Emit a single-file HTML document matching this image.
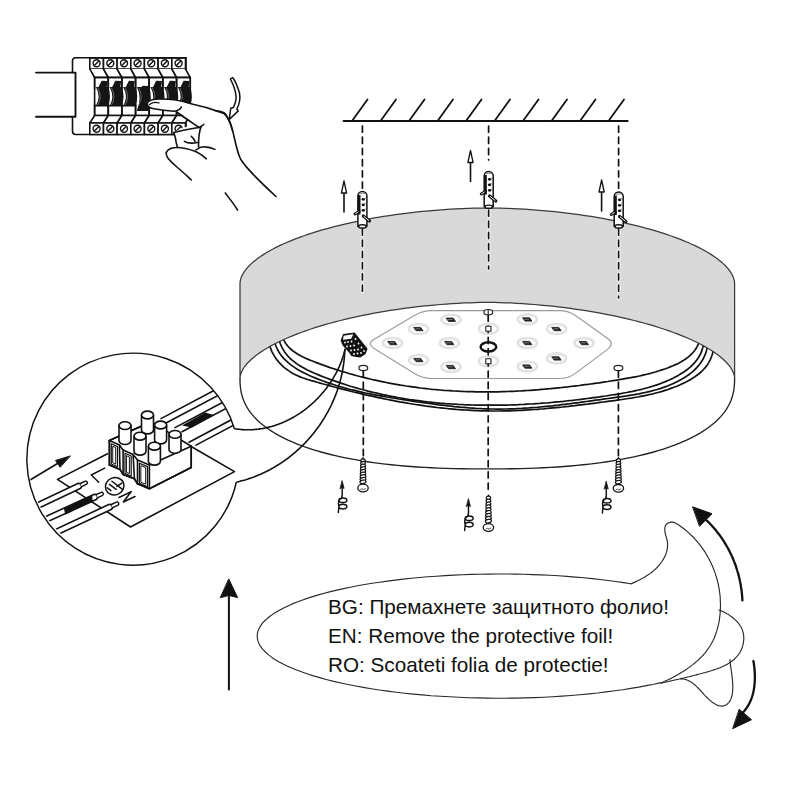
<!DOCTYPE html>
<html><head><meta charset="utf-8"><style>
html,body{margin:0;padding:0;background:#fff;}
body{width:800px;height:800px;overflow:hidden;font-family:"Liberation Sans",sans-serif;}
svg{display:block;}
</style></head><body>
<svg width="800" height="800" viewBox="0 0 800 800" stroke-linecap="round" stroke-linejoin="round">
<rect width="800" height="800" fill="#fff"/>
<g id="interior">
<path d="M280.7,329.6 L281.2,332.8 L282.0,335.8 L283.1,338.6 L284.4,341.1 L285.8,343.5 L287.5,345.7 L289.3,347.7 L291.3,349.5 L293.4,351.3 L295.6,352.8 L298.0,354.3 L300.5,355.7 L303.0,357.0 L305.6,358.2 L308.3,359.4 L311.0,360.5 L313.7,361.5 L316.4,362.6 L319.1,363.6 L321.9,364.6 L324.6,365.6 L327.4,366.6 L330.1,367.6 L332.9,368.5 L335.6,369.4 L338.4,370.3 L341.2,371.2 L344.0,372.0 L346.8,372.8 L349.6,373.7 L352.3,374.4 L355.2,375.2 L358.0,376.0 L360.8,376.7 L363.6,377.4 L366.4,378.1 L369.2,378.8 L372.1,379.5 L374.9,380.1 L377.7,380.7 L380.6,381.3 L383.4,381.9 L386.3,382.5 L389.1,383.1 L392.0,383.6 L394.8,384.1 L397.7,384.6 L400.5,385.1 L403.4,385.5 L406.3,386.0 L409.2,386.4 L412.0,386.8 L414.9,387.2 L417.8,387.6 L420.7,388.0 L423.5,388.3 L426.4,388.6 L429.3,389.0 L432.2,389.3 L435.1,389.5 L438.0,389.8 L440.9,390.0 L443.7,390.3 L446.6,390.5 L449.5,390.7 L452.4,390.9 L455.3,391.0 L458.2,391.2 L461.1,391.3 L464.0,391.5 L466.9,391.6 L469.8,391.7 L472.7,391.7 L475.6,391.8 L478.4,391.8 L481.3,391.9 L484.2,391.9 L487.1,391.9 L490.0,391.9 L492.9,391.9 L495.8,391.8 L498.7,391.8 L501.5,391.7 L504.4,391.6 L507.3,391.5 L510.2,391.4 L513.1,391.3 L515.9,391.2 L518.8,391.0 L521.7,390.9 L524.6,390.7 L527.4,390.5 L530.3,390.3 L533.2,390.1 L536.1,389.9 L538.9,389.7 L541.8,389.4 L544.7,389.2 L547.5,388.9 L550.4,388.7 L553.3,388.4 L556.1,388.1 L559.0,387.8 L561.9,387.5 L564.8,387.2 L567.6,386.9 L570.5,386.5 L573.4,386.2 L576.2,385.8 L579.1,385.5 L582.0,385.1 L584.8,384.7 L587.7,384.4 L590.6,384.0 L593.4,383.6 L596.3,383.2 L599.2,382.8 L602.1,382.3 L604.9,381.9 L607.8,381.5 L610.7,381.0 L613.5,380.6 L616.4,380.2 L619.3,379.7 L622.2,379.2 L625.0,378.7 L627.9,378.2 L630.8,377.7 L633.6,377.1 L636.5,376.6 L639.3,376.0 L642.2,375.3 L645.0,374.7 L647.8,374.0 L650.7,373.3 L653.5,372.5 L656.3,371.7 L659.1,370.8 L661.9,369.9 L664.7,369.0 L667.5,368.0 L670.2,366.9 L672.9,365.8 L675.6,364.6 L678.2,363.4 L680.8,362.0 L683.2,360.6 L685.6,359.0 L687.8,357.4 L689.9,355.6 L691.9,353.7 L693.7,351.7 L695.4,349.5 L696.8,347.2 L698.1,344.7 L699.2,342.0 L700.1,339.2 L700.7,336.2 L701.1,333.0" fill="none" stroke="#111" stroke-width="1.7"/>
<path d="M277.6,331.0 L278.0,334.5 L278.6,337.9 L279.4,341.0 L280.4,344.0 L281.7,346.8 L283.1,349.4 L284.6,351.9 L286.4,354.2 L288.2,356.4 L290.2,358.5 L292.4,360.4 L294.7,362.2 L297.0,363.9 L299.5,365.6 L302.0,367.1 L304.7,368.5 L307.4,369.9 L310.1,371.2 L312.9,372.5 L315.7,373.7 L318.5,374.9 L321.4,376.1 L324.3,377.2 L327.1,378.3 L330.0,379.4 L332.9,380.4 L335.8,381.4 L338.7,382.4 L341.6,383.4 L344.5,384.3 L347.4,385.3 L350.3,386.2 L353.2,387.0 L356.1,387.9 L359.1,388.7 L362.0,389.5 L365.0,390.3 L367.9,391.1 L370.9,391.8 L373.8,392.5 L376.8,393.2 L379.7,393.9 L382.7,394.6 L385.7,395.2 L388.6,395.8 L391.6,396.4 L394.6,396.9 L397.6,397.5 L400.6,398.0 L403.6,398.5 L406.5,399.0 L409.5,399.5 L412.5,399.9 L415.5,400.3 L418.5,400.7 L421.6,401.1 L424.6,401.5 L427.6,401.9 L430.6,402.2 L433.6,402.5 L436.6,402.8 L439.6,403.1 L442.6,403.3 L445.7,403.6 L448.7,403.8 L451.7,404.0 L454.7,404.2 L457.7,404.4 L460.8,404.5 L463.8,404.7 L466.8,404.8 L469.8,404.9 L472.9,405.0 L475.9,405.1 L478.9,405.1 L481.9,405.2 L484.9,405.2 L488.0,405.2 L491.0,405.2 L494.0,405.2 L497.0,405.2 L500.0,405.2 L503.0,405.1 L506.1,405.1 L509.1,405.0 L512.1,404.9 L515.1,404.8 L518.1,404.7 L521.1,404.5 L524.1,404.4 L527.1,404.2 L530.2,404.0 L533.2,403.9 L536.2,403.7 L539.2,403.5 L542.2,403.2 L545.2,403.0 L548.2,402.8 L551.2,402.5 L554.2,402.2 L557.3,401.9 L560.3,401.7 L563.3,401.4 L566.3,401.0 L569.3,400.7 L572.3,400.4 L575.3,400.0 L578.4,399.7 L581.4,399.3 L584.4,398.9 L587.4,398.5 L590.4,398.1 L593.4,397.7 L596.5,397.3 L599.5,396.9 L602.5,396.4 L605.5,396.0 L608.6,395.5 L611.6,395.0 L614.6,394.6 L617.7,394.1 L620.7,393.6 L623.7,393.0 L626.7,392.5 L629.7,391.9 L632.7,391.3 L635.7,390.6 L638.7,390.0 L641.7,389.3 L644.6,388.5 L647.6,387.7 L650.5,386.9 L653.4,386.0 L656.2,385.1 L659.1,384.1 L661.9,383.0 L664.7,381.9 L667.5,380.7 L670.3,379.5 L673.0,378.2 L675.7,376.8 L678.3,375.4 L680.9,373.8 L683.5,372.2 L685.9,370.5 L688.3,368.7 L690.6,366.8 L692.7,364.7 L694.7,362.6 L696.5,360.4 L698.2,358.0 L699.7,355.5 L701.0,352.9 L702.0,350.1 L702.9,347.2 L703.5,344.1 L703.9,340.9 L704.0,337.6 L703.8,334.1" fill="none" stroke="#111" stroke-width="1.7"/>
<path d="M273.1,333.3 L273.5,336.7 L274.1,340.0 L274.9,343.1 L275.9,346.0 L277.2,348.8 L278.6,351.5 L280.2,354.0 L282.0,356.4 L283.9,358.6 L286.0,360.7 L288.2,362.7 L290.5,364.6 L293.0,366.4 L295.5,368.1 L298.1,369.8 L300.8,371.3 L303.6,372.7 L306.4,374.1 L309.3,375.5 L312.2,376.7 L315.1,377.9 L318.0,379.1 L321.0,380.2 L323.9,381.3 L326.8,382.4 L329.8,383.4 L332.7,384.3 L335.7,385.3 L338.7,386.2 L341.6,387.0 L344.6,387.9 L347.6,388.7 L350.6,389.5 L353.5,390.2 L356.5,390.9 L359.5,391.6 L362.5,392.3 L365.5,393.0 L368.5,393.6 L371.6,394.2 L374.6,394.8 L377.6,395.4 L380.6,395.9 L383.6,396.4 L386.7,397.0 L389.7,397.5 L392.8,398.0 L395.8,398.5 L398.8,399.0 L401.9,399.4 L405.0,399.9 L408.0,400.4 L411.1,400.8 L414.1,401.3 L417.2,401.8 L420.3,402.2 L423.4,402.7 L426.4,403.1 L429.5,403.5 L432.6,403.9 L435.7,404.4 L438.8,404.8 L441.8,405.1 L444.9,405.5 L448.0,405.9 L451.1,406.2 L454.2,406.6 L457.3,406.9 L460.4,407.2 L463.5,407.4 L466.6,407.7 L469.7,408.0 L472.7,408.2 L475.8,408.4 L478.9,408.5 L482.0,408.7 L485.1,408.8 L488.2,408.9 L491.2,409.0 L494.3,409.0 L497.4,409.1 L500.5,409.1 L503.5,409.0 L506.6,409.0 L509.7,408.9 L512.7,408.8 L515.8,408.7 L518.9,408.5 L521.9,408.4 L525.0,408.2 L528.0,408.0 L531.1,407.7 L534.2,407.5 L537.2,407.3 L540.3,407.0 L543.4,406.7 L546.4,406.4 L549.5,406.1 L552.5,405.8 L555.6,405.4 L558.7,405.1 L561.7,404.7 L564.8,404.3 L567.9,403.9 L570.9,403.6 L574.0,403.2 L577.1,402.8 L580.2,402.4 L583.2,401.9 L586.3,401.5 L589.4,401.1 L592.5,400.7 L595.6,400.2 L598.7,399.8 L601.8,399.4 L604.9,398.9 L608.0,398.5 L611.1,398.1 L614.2,397.7 L617.3,397.2 L620.4,396.8 L623.5,396.3 L626.6,395.9 L629.7,395.4 L632.8,394.9 L635.9,394.3 L639.0,393.8 L642.0,393.2 L645.1,392.5 L648.1,391.8 L651.1,391.1 L654.1,390.3 L657.0,389.5 L660.0,388.6 L662.9,387.6 L665.8,386.6 L668.6,385.5 L671.5,384.3 L674.3,383.1 L677.0,381.7 L679.7,380.3 L682.4,378.8 L685.0,377.2 L687.6,375.5 L690.0,373.7 L692.4,371.8 L694.6,369.8 L696.7,367.6 L698.7,365.4 L700.5,363.0 L702.2,360.6 L703.6,358.0 L704.9,355.2 L706.0,352.4 L706.8,349.4 L707.5,346.3 L707.8,343.0 L707.9,339.6 L707.8,336.1" fill="none" stroke="#111" stroke-width="1.7"/>
<path d="M268.5,336.4 L268.6,339.6 L269.1,342.8 L269.8,345.9 L270.8,348.9 L272.0,351.8 L273.5,354.6 L275.1,357.3 L277.0,359.9 L279.0,362.3 L281.2,364.6 L283.5,366.8 L285.9,368.8 L288.5,370.6 L291.1,372.4 L293.8,373.9 L296.6,375.3 L299.5,376.6 L302.4,377.7 L305.3,378.7 L308.3,379.7 L311.3,380.6 L314.3,381.4 L317.3,382.3 L320.3,383.1 L323.3,384.0 L326.3,384.8 L329.3,385.6 L332.4,386.5 L335.4,387.3 L338.4,388.1 L341.5,388.9 L344.5,389.7 L347.6,390.4 L350.6,391.2 L353.7,392.0 L356.7,392.7 L359.8,393.4 L362.9,394.1 L365.9,394.9 L369.0,395.6 L372.1,396.2 L375.2,396.9 L378.2,397.6 L381.3,398.2 L384.4,398.9 L387.5,399.5 L390.6,400.1 L393.7,400.7 L396.8,401.3 L399.9,401.9 L403.0,402.4 L406.1,402.9 L409.3,403.5 L412.4,404.0 L415.5,404.5 L418.6,404.9 L421.7,405.4 L424.8,405.9 L428.0,406.3 L431.1,406.7 L434.2,407.1 L437.3,407.5 L440.5,407.8 L443.6,408.2 L446.7,408.5 L449.9,408.8 L453.0,409.1 L456.1,409.4 L459.3,409.6 L462.4,409.8 L465.5,410.0 L468.6,410.2 L471.8,410.4 L474.9,410.6 L478.0,410.7 L481.2,410.8 L484.3,410.9 L487.4,410.9 L490.6,411.0 L493.7,411.0 L496.8,411.0 L500.0,411.0 L503.1,410.9 L506.2,410.9 L509.3,410.8 L512.5,410.7 L515.6,410.6 L518.7,410.4 L521.9,410.3 L525.0,410.1 L528.1,409.9 L531.2,409.7 L534.4,409.5 L537.5,409.3 L540.6,409.0 L543.7,408.8 L546.9,408.5 L550.0,408.2 L553.1,407.9 L556.2,407.6 L559.4,407.3 L562.5,407.0 L565.6,406.6 L568.7,406.3 L571.9,405.9 L575.0,405.6 L578.1,405.2 L581.3,404.8 L584.4,404.4 L587.5,404.1 L590.6,403.7 L593.8,403.3 L596.9,402.9 L600.0,402.4 L603.2,402.0 L606.3,401.6 L609.4,401.2 L612.6,400.8 L615.7,400.4 L618.9,399.9 L622.0,399.5 L625.1,399.0 L628.2,398.5 L631.4,398.1 L634.5,397.5 L637.6,397.0 L640.7,396.4 L643.8,395.8 L646.8,395.2 L649.9,394.5 L653.0,393.8 L656.0,393.0 L659.0,392.2 L662.1,391.4 L665.1,390.4 L668.0,389.5 L671.0,388.4 L673.9,387.3 L676.8,386.2 L679.7,385.0 L682.6,383.6 L685.5,382.3 L688.3,380.8 L691.0,379.2 L693.7,377.6 L696.2,375.8 L698.7,374.0 L701.0,372.0 L703.2,369.8 L705.2,367.6 L707.1,365.2 L708.7,362.6 L710.2,359.9 L711.4,357.0 L712.4,354.0 L713.1,350.9 L713.6,347.6 L713.8,344.1 L713.8,340.6" fill="none" stroke="#111" stroke-width="1.7"/>
<path d="M374.1,348.5 Q366.5,343.8 374.2,339.2 L414.8,315.2 Q422.5,310.6 431.5,310.6 L559.5,310.6 Q568.5,310.6 575.8,315.8 L607.7,338.5 Q615.0,343.8 607.8,349.1 L575.7,373.1 Q568.5,378.5 559.5,378.5 L431.5,378.5 Q422.5,378.5 414.9,373.8 Z" fill="#fff" stroke="#9a9a9a" stroke-width="1.1"/>
<ellipse cx="451.0" cy="319.7" rx="9.6" ry="5.0" fill="none" stroke="#e2e2e2" stroke-width="2.6"/>
<path d="M446.5,318.1 L453.2,318.1 L455.5,321.4 L448.8,321.4 Z" fill="#222" stroke="#222" stroke-width="0.9"/>
<path d="M448.5,319.5 L452.5,319.5" stroke="#999" stroke-width="0.7"/>
<ellipse cx="527.4" cy="319.4" rx="9.6" ry="5.0" fill="none" stroke="#e2e2e2" stroke-width="2.6"/>
<path d="M522.9,317.8 L529.6,317.8 L531.9,321.1 L525.2,321.1 Z" fill="#222" stroke="#222" stroke-width="0.9"/>
<path d="M524.9,319.2 L528.9,319.2" stroke="#999" stroke-width="0.7"/>
<ellipse cx="418.5" cy="329.0" rx="9.6" ry="5.0" fill="none" stroke="#e2e2e2" stroke-width="2.6"/>
<path d="M414.0,327.4 L420.7,327.4 L423.0,330.7 L416.3,330.7 Z" fill="#222" stroke="#222" stroke-width="0.9"/>
<path d="M416.0,328.8 L420.0,328.8" stroke="#999" stroke-width="0.7"/>
<ellipse cx="556.6" cy="329.0" rx="9.6" ry="5.0" fill="none" stroke="#e2e2e2" stroke-width="2.6"/>
<path d="M552.1,327.4 L558.8,327.4 L561.1,330.7 L554.4,330.7 Z" fill="#222" stroke="#222" stroke-width="0.9"/>
<path d="M554.1,328.8 L558.1,328.8" stroke="#999" stroke-width="0.7"/>
<ellipse cx="392.5" cy="343.0" rx="9.6" ry="5.0" fill="none" stroke="#e2e2e2" stroke-width="2.6"/>
<path d="M388.0,341.4 L394.7,341.4 L397.0,344.7 L390.3,344.7 Z" fill="#222" stroke="#222" stroke-width="0.9"/>
<path d="M390.0,342.8 L394.0,342.8" stroke="#999" stroke-width="0.7"/>
<ellipse cx="449.4" cy="343.0" rx="9.6" ry="5.0" fill="none" stroke="#e2e2e2" stroke-width="2.6"/>
<path d="M444.9,341.4 L451.6,341.4 L453.9,344.7 L447.2,344.7 Z" fill="#222" stroke="#222" stroke-width="0.9"/>
<path d="M446.9,342.8 L450.9,342.8" stroke="#999" stroke-width="0.7"/>
<ellipse cx="527.4" cy="343.0" rx="9.6" ry="5.0" fill="none" stroke="#e2e2e2" stroke-width="2.6"/>
<path d="M522.9,341.4 L529.6,341.4 L531.9,344.7 L525.2,344.7 Z" fill="#222" stroke="#222" stroke-width="0.9"/>
<path d="M524.9,342.8 L528.9,342.8" stroke="#999" stroke-width="0.7"/>
<ellipse cx="584.0" cy="343.0" rx="9.6" ry="5.0" fill="none" stroke="#e2e2e2" stroke-width="2.6"/>
<path d="M579.5,341.4 L586.2,341.4 L588.5,344.7 L581.8,344.7 Z" fill="#222" stroke="#222" stroke-width="0.9"/>
<path d="M581.5,342.8 L585.5,342.8" stroke="#999" stroke-width="0.7"/>
<ellipse cx="418.5" cy="360.0" rx="9.6" ry="5.0" fill="none" stroke="#e2e2e2" stroke-width="2.6"/>
<path d="M414.0,358.4 L420.7,358.4 L423.0,361.7 L416.3,361.7 Z" fill="#222" stroke="#222" stroke-width="0.9"/>
<path d="M416.0,359.8 L420.0,359.8" stroke="#999" stroke-width="0.7"/>
<ellipse cx="556.6" cy="358.4" rx="9.6" ry="5.0" fill="none" stroke="#e2e2e2" stroke-width="2.6"/>
<path d="M552.1,356.8 L558.8,356.8 L561.1,360.1 L554.4,360.1 Z" fill="#222" stroke="#222" stroke-width="0.9"/>
<path d="M554.1,358.2 L558.1,358.2" stroke="#999" stroke-width="0.7"/>
<ellipse cx="451.0" cy="367.0" rx="9.6" ry="5.0" fill="none" stroke="#e2e2e2" stroke-width="2.6"/>
<path d="M446.5,365.4 L453.2,365.4 L455.5,368.7 L448.8,368.7 Z" fill="#222" stroke="#222" stroke-width="0.9"/>
<path d="M448.5,366.8 L452.5,366.8" stroke="#999" stroke-width="0.7"/>
<ellipse cx="527.4" cy="366.5" rx="9.6" ry="5.0" fill="none" stroke="#e2e2e2" stroke-width="2.6"/>
<path d="M522.9,364.9 L529.6,364.9 L531.9,368.2 L525.2,368.2 Z" fill="#222" stroke="#222" stroke-width="0.9"/>
<path d="M524.9,366.3 L528.9,366.3" stroke="#999" stroke-width="0.7"/>
<ellipse cx="488.4" cy="328.8" rx="9.6" ry="5.0" fill="none" stroke="#e2e2e2" stroke-width="2.6"/>
<ellipse cx="488.4" cy="361.2" rx="9.6" ry="5.0" fill="none" stroke="#e2e2e2" stroke-width="2.6"/>
<line x1="488.2" y1="315.0" x2="488.2" y2="493.0" stroke="#111" stroke-width="1.7" stroke-dasharray="6.2 5.0"/>
<rect x="485.8" y="326.2" width="5.2" height="5" fill="#fff" stroke="#222" stroke-width="1.1"/>
<rect x="485.8" y="358.8" width="5.2" height="5" fill="#fff" stroke="#222" stroke-width="1.1"/>
<ellipse cx="488.4" cy="346.9" rx="7.8" ry="4.6" fill="none" stroke="#111" stroke-width="2.4"/>
<ellipse cx="488.3" cy="312.2" rx="4.4" ry="2.7" fill="#fff" stroke="#222" stroke-width="1.2"/>
<ellipse cx="363.3" cy="368.0" rx="4.4" ry="2.7" fill="#fff" stroke="#222" stroke-width="1.2"/>
<ellipse cx="618.4" cy="368.0" rx="4.4" ry="2.7" fill="#fff" stroke="#222" stroke-width="1.2"/>
<line x1="488.2" y1="309.5" x2="488.2" y2="315" stroke="#222" stroke-width="1.1"/>
</g>
<path d="M240.00,283.60 L240.09,282.08 L240.37,280.40 L240.83,278.66 L241.48,276.87 L242.31,275.06 L243.33,273.22 L244.52,271.37 L245.90,269.51 L247.46,267.64 L249.20,265.77 L251.12,263.90 L253.21,262.03 L255.47,260.16 L257.91,258.30 L260.52,256.46 L263.29,254.62 L266.23,252.80 L269.34,250.99 L272.60,249.20 L276.02,247.43 L279.59,245.68 L283.32,243.95 L287.19,242.25 L291.21,240.57 L295.37,238.92 L299.67,237.30 L304.10,235.72 L308.66,234.16 L313.34,232.64 L318.15,231.15 L323.07,229.70 L328.11,228.29 L333.25,226.91 L338.50,225.58 L343.84,224.29 L349.28,223.04 L354.81,221.83 L360.42,220.67 L366.10,219.55 L371.86,218.48 L377.69,217.46 L383.57,216.49 L389.51,215.56 L395.50,214.69 L401.53,213.87 L407.59,213.10 L413.68,212.38 L419.79,211.71 L425.91,211.10 L432.04,210.54 L438.16,210.04 L444.26,209.59 L450.33,209.19 L456.36,208.86 L462.34,208.57 L468.23,208.35 L474.01,208.18 L479.62,208.06 L484.94,208.01 L489.66,208.01 L494.98,208.06 L500.59,208.18 L506.37,208.35 L512.26,208.57 L518.24,208.86 L524.27,209.19 L530.34,209.59 L536.44,210.04 L542.56,210.54 L548.69,211.10 L554.81,211.71 L560.92,212.38 L567.01,213.10 L573.07,213.87 L579.10,214.69 L585.09,215.56 L591.03,216.49 L596.91,217.46 L602.74,218.48 L608.50,219.55 L614.18,220.67 L619.79,221.83 L625.32,223.04 L630.76,224.29 L636.10,225.58 L641.35,226.91 L646.49,228.29 L651.53,229.70 L656.45,231.15 L661.26,232.64 L665.94,234.16 L670.50,235.72 L674.93,237.30 L679.23,238.92 L683.39,240.57 L687.41,242.25 L691.28,243.95 L695.01,245.68 L698.58,247.43 L702.00,249.20 L705.26,250.99 L708.37,252.80 L711.31,254.62 L714.08,256.46 L716.69,258.30 L719.13,260.16 L721.39,262.03 L723.48,263.90 L725.40,265.77 L727.14,267.64 L728.70,269.51 L730.08,271.37 L731.27,273.22 L732.29,275.06 L733.12,276.87 L733.77,278.66 L734.23,280.40 L734.51,282.08 L734.60,283.60 L734.60,378.40 L734.60,378.40 L734.50,377.03 L734.22,375.45 L733.74,373.79 L733.08,372.07 L732.22,370.32 L731.18,368.52 L729.95,366.71 L728.54,364.88 L726.93,363.03 L725.15,361.18 L723.18,359.32 L721.04,357.45 L718.71,355.59 L716.21,353.73 L713.54,351.87 L710.70,350.03 L707.68,348.19 L704.51,346.37 L701.16,344.56 L697.66,342.77 L694.01,341.00 L690.20,339.25 L686.24,337.52 L682.14,335.81 L677.89,334.14 L673.51,332.49 L668.99,330.87 L664.35,329.28 L659.58,327.72 L654.69,326.20 L649.68,324.72 L644.57,323.27 L639.35,321.86 L634.03,320.50 L628.62,319.17 L623.11,317.89 L617.53,316.65 L611.87,315.45 L606.13,314.31 L600.33,313.21 L594.48,312.16 L588.57,311.15 L582.61,310.20 L576.62,309.30 L570.60,308.45 L564.55,307.66 L558.50,306.92 L552.43,306.23 L546.37,305.60 L540.32,305.02 L534.30,304.50 L528.31,304.04 L522.38,303.63 L516.51,303.28 L510.73,302.99 L505.07,302.76 L499.56,302.58 L494.28,302.47 L489.37,302.41 L485.23,302.41 L480.32,302.47 L475.04,302.58 L469.53,302.76 L463.87,302.99 L458.09,303.28 L452.22,303.63 L446.29,304.04 L440.30,304.50 L434.28,305.02 L428.23,305.60 L422.17,306.23 L416.10,306.92 L410.05,307.66 L404.00,308.45 L397.98,309.30 L391.99,310.20 L386.03,311.15 L380.12,312.16 L374.27,313.21 L368.47,314.31 L362.73,315.45 L357.07,316.65 L351.49,317.89 L345.98,319.17 L340.57,320.50 L335.25,321.86 L330.03,323.27 L324.92,324.72 L319.91,326.20 L315.02,327.72 L310.25,329.28 L305.61,330.87 L301.09,332.49 L296.71,334.14 L292.46,335.81 L288.36,337.52 L284.40,339.25 L280.59,341.00 L276.94,342.77 L273.44,344.56 L270.09,346.37 L266.92,348.19 L263.90,350.03 L261.06,351.87 L258.39,353.73 L255.89,355.59 L253.56,357.45 L251.42,359.32 L249.45,361.18 L247.67,363.03 L246.06,364.88 L244.65,366.71 L243.42,368.52 L242.38,370.32 L241.52,372.07 L240.86,373.79 L240.38,375.45 L240.10,377.03 L240.00,378.40 Z" fill="#d9d9d9" stroke="#3a3a3a" stroke-width="1.25"/>
<path d="M240.00,378.40 L240.07,382.67 L240.29,386.04 L240.65,389.14 L241.16,392.06 L241.81,394.87 L242.60,397.57 L243.54,400.19 L244.63,402.75 L245.85,405.24 L247.22,407.67 L248.73,410.04 L250.38,412.36 L252.18,414.64 L254.11,416.86 L256.18,419.04 L258.40,421.18 L260.75,423.27 L263.24,425.31 L265.86,427.31 L268.63,429.27 L271.52,431.18 L274.55,433.05 L277.72,434.88 L281.01,436.66 L284.44,438.39 L288.00,440.09 L291.69,441.74 L295.50,443.34 L299.44,444.90 L303.51,446.41 L307.71,447.87 L312.02,449.29 L316.47,450.67 L321.03,451.99 L325.72,453.27 L330.52,454.50 L335.45,455.68 L340.50,456.82 L345.67,457.90 L350.96,458.94 L356.36,459.92 L361.89,460.86 L367.54,461.74 L373.31,462.58 L379.20,463.36 L385.22,464.10 L391.37,464.78 L397.65,465.41 L404.07,465.99 L410.63,466.51 L417.35,466.99 L424.23,467.41 L431.30,467.78 L438.58,468.10 L446.10,468.36 L453.92,468.58 L462.12,468.73 L470.90,468.84 L480.79,468.89 L493.81,468.89 L503.70,468.84 L512.48,468.73 L520.68,468.58 L528.50,468.36 L536.02,468.10 L543.30,467.78 L550.37,467.41 L557.25,466.99 L563.97,466.51 L570.53,465.99 L576.95,465.41 L583.23,464.78 L589.38,464.10 L595.40,463.36 L601.29,462.58 L607.06,461.74 L612.71,460.86 L618.24,459.92 L623.64,458.94 L628.93,457.90 L634.10,456.82 L639.15,455.68 L644.08,454.50 L648.88,453.27 L653.57,451.99 L658.13,450.67 L662.58,449.29 L666.89,447.87 L671.09,446.41 L675.16,444.90 L679.10,443.34 L682.91,441.74 L686.60,440.09 L690.16,438.39 L693.59,436.66 L696.88,434.88 L700.05,433.05 L703.08,431.18 L705.97,429.27 L708.74,427.31 L711.36,425.31 L713.85,423.27 L716.20,421.18 L718.42,419.04 L720.49,416.86 L722.42,414.64 L724.22,412.36 L725.87,410.04 L727.38,407.67 L728.75,405.24 L729.97,402.75 L731.06,400.19 L732.00,397.57 L732.79,394.87 L733.44,392.06 L733.95,389.14 L734.31,386.04 L734.53,382.67 L734.60,378.40" fill="none" stroke="#222" stroke-width="1.35"/>
<line x1="343.6" y1="121" x2="627.6" y2="121" stroke="#111" stroke-width="2"/>
<line x1="352.0" y1="121" x2="367.5" y2="99.5" stroke="#111" stroke-width="1.8"/>
<line x1="380.5" y1="121" x2="396.0" y2="99.5" stroke="#111" stroke-width="1.8"/>
<line x1="409.0" y1="121" x2="424.5" y2="99.5" stroke="#111" stroke-width="1.8"/>
<line x1="437.5" y1="121" x2="453.0" y2="99.5" stroke="#111" stroke-width="1.8"/>
<line x1="466.0" y1="121" x2="481.5" y2="99.5" stroke="#111" stroke-width="1.8"/>
<line x1="494.5" y1="121" x2="510.0" y2="99.5" stroke="#111" stroke-width="1.8"/>
<line x1="523.0" y1="121" x2="538.5" y2="99.5" stroke="#111" stroke-width="1.8"/>
<line x1="551.5" y1="121" x2="567.0" y2="99.5" stroke="#111" stroke-width="1.8"/>
<line x1="580.0" y1="121" x2="595.5" y2="99.5" stroke="#111" stroke-width="1.8"/>
<line x1="608.5" y1="121" x2="624.0" y2="99.5" stroke="#111" stroke-width="1.8"/>
<line x1="362.4" y1="126.0" x2="362.4" y2="190.0" stroke="#111" stroke-width="1.7" stroke-dasharray="6.2 5.0"/>
<line x1="488.6" y1="126.0" x2="488.6" y2="160.0" stroke="#111" stroke-width="1.7" stroke-dasharray="6.2 5.0"/>
<line x1="618.6" y1="126.0" x2="618.6" y2="191.0" stroke="#111" stroke-width="1.7" stroke-dasharray="6.2 5.0"/>
<line x1="362.4" y1="229.0" x2="362.4" y2="292.0" stroke="#fff" stroke-width="3.6" stroke-dasharray="6.2 5.0"/>
<line x1="362.4" y1="229.0" x2="362.4" y2="292.0" stroke="#111" stroke-width="1.7" stroke-dasharray="6.2 5.0"/>
<line x1="488.6" y1="210.0" x2="488.6" y2="269.0" stroke="#fff" stroke-width="3.6" stroke-dasharray="6.2 5.0"/>
<line x1="488.6" y1="210.0" x2="488.6" y2="269.0" stroke="#111" stroke-width="1.7" stroke-dasharray="6.2 5.0"/>
<line x1="618.6" y1="229.0" x2="618.6" y2="298.0" stroke="#fff" stroke-width="3.6" stroke-dasharray="6.2 5.0"/>
<line x1="618.6" y1="229.0" x2="618.6" y2="298.0" stroke="#111" stroke-width="1.7" stroke-dasharray="6.2 5.0"/>
<line x1="363.3" y1="371.0" x2="363.3" y2="457.0" stroke="#111" stroke-width="1.7" stroke-dasharray="6.2 5.0"/>
<line x1="618.4" y1="371.0" x2="618.4" y2="457.0" stroke="#111" stroke-width="1.7" stroke-dasharray="6.2 5.0"/>
<path d="M357.9,226.5 L357.9,196.0 A4.5,4.5 0 0 1 366.9,196.0 L366.9,226.5 Z" fill="#fff" stroke="#111" stroke-width="1.5"/>
<path d="M359.1,195.0 L359.1,214.5" stroke="#111" stroke-width="2.8" stroke-linecap="butt"/>
<path d="M360.0,193.7 Q362.5,192.9 365.0,193.7" stroke="#888" stroke-width="1" fill="none"/>
<ellipse cx="363.3" cy="199.3" rx="1.7" ry="1.4" fill="#111"/>
<path d="M364.0,198.5 q1.5,-1 2.5,0" stroke="#666" stroke-width="0.8" fill="none"/>
<ellipse cx="363.3" cy="204.8" rx="1.7" ry="1.4" fill="#111"/>
<path d="M364.0,204.0 q1.5,-1 2.5,0" stroke="#666" stroke-width="0.8" fill="none"/>
<ellipse cx="363.3" cy="210.3" rx="1.7" ry="1.4" fill="#111"/>
<path d="M364.0,209.5 q1.5,-1 2.5,0" stroke="#666" stroke-width="0.8" fill="none"/>
<path d="M355.0,214.0 L359.0,211.5" stroke="#111" stroke-width="3" stroke-linecap="round"/>
<path d="M355.5,213.7 L358.0,212.1" stroke="#fff" stroke-width="0.9" stroke-linecap="round"/>
<path d="M363.3,216.0 L369.5,221.0" stroke="#111" stroke-width="3.2" stroke-linecap="round"/>
<path d="M364.0,216.5 L368.8,220.5" stroke="#fff" stroke-width="1" stroke-linecap="round"/>
<ellipse cx="362.4" cy="226.4" rx="3.8" ry="1.6" fill="#fff" stroke="#111" stroke-width="1.4"/>
<path d="M484.2,206.8 L484.2,176.0 A4.5,4.5 0 0 1 493.2,176.0 L493.2,206.8 Z" fill="#fff" stroke="#111" stroke-width="1.5"/>
<path d="M485.4,175.0 L485.4,194.5" stroke="#111" stroke-width="2.8" stroke-linecap="butt"/>
<path d="M486.3,173.7 Q488.8,172.9 491.3,173.7" stroke="#888" stroke-width="1" fill="none"/>
<ellipse cx="489.6" cy="179.3" rx="1.7" ry="1.4" fill="#111"/>
<path d="M490.3,178.5 q1.5,-1 2.5,0" stroke="#666" stroke-width="0.8" fill="none"/>
<ellipse cx="489.6" cy="184.8" rx="1.7" ry="1.4" fill="#111"/>
<path d="M490.3,184.0 q1.5,-1 2.5,0" stroke="#666" stroke-width="0.8" fill="none"/>
<ellipse cx="489.6" cy="190.3" rx="1.7" ry="1.4" fill="#111"/>
<path d="M490.3,189.5 q1.5,-1 2.5,0" stroke="#666" stroke-width="0.8" fill="none"/>
<path d="M481.3,194.0 L485.3,191.5" stroke="#111" stroke-width="3" stroke-linecap="round"/>
<path d="M481.8,193.7 L484.3,192.1" stroke="#fff" stroke-width="0.9" stroke-linecap="round"/>
<path d="M489.6,196.0 L495.8,201.0" stroke="#111" stroke-width="3.2" stroke-linecap="round"/>
<path d="M490.3,196.5 L495.1,200.5" stroke="#fff" stroke-width="1" stroke-linecap="round"/>
<ellipse cx="488.7" cy="206.7" rx="3.8" ry="1.6" fill="#fff" stroke="#111" stroke-width="1.4"/>
<path d="M614.2,226.5 L614.2,196.5 A4.5,4.5 0 0 1 623.2,196.5 L623.2,226.5 Z" fill="#fff" stroke="#111" stroke-width="1.5"/>
<path d="M615.4,195.5 L615.4,215.0" stroke="#111" stroke-width="2.8" stroke-linecap="butt"/>
<path d="M616.3,194.2 Q618.8,193.4 621.3,194.2" stroke="#888" stroke-width="1" fill="none"/>
<ellipse cx="619.6" cy="199.8" rx="1.7" ry="1.4" fill="#111"/>
<path d="M620.3,199.0 q1.5,-1 2.5,0" stroke="#666" stroke-width="0.8" fill="none"/>
<ellipse cx="619.6" cy="205.3" rx="1.7" ry="1.4" fill="#111"/>
<path d="M620.3,204.5 q1.5,-1 2.5,0" stroke="#666" stroke-width="0.8" fill="none"/>
<ellipse cx="619.6" cy="210.8" rx="1.7" ry="1.4" fill="#111"/>
<path d="M620.3,210.0 q1.5,-1 2.5,0" stroke="#666" stroke-width="0.8" fill="none"/>
<path d="M611.3,214.5 L615.3,212.0" stroke="#111" stroke-width="3" stroke-linecap="round"/>
<path d="M611.8,214.2 L614.3,212.6" stroke="#fff" stroke-width="0.9" stroke-linecap="round"/>
<path d="M619.6,216.5 L625.8,221.5" stroke="#111" stroke-width="3.2" stroke-linecap="round"/>
<path d="M620.3,217.0 L625.1,221.0" stroke="#fff" stroke-width="1" stroke-linecap="round"/>
<ellipse cx="618.7" cy="226.4" rx="3.8" ry="1.6" fill="#fff" stroke="#111" stroke-width="1.4"/>
<line x1="344.0" y1="192.0" x2="344.0" y2="212.0" stroke="#111" stroke-width="1.6"/>
<path d="M344.0,181.0 L346.6,193.0 L341.4,193.0 Z" fill="#fff" stroke="#111" stroke-width="1.3"/>
<line x1="470.5" y1="161.5" x2="470.5" y2="181.5" stroke="#111" stroke-width="1.6"/>
<path d="M470.5,150.5 L473.1,162.5 L467.9,162.5 Z" fill="#fff" stroke="#111" stroke-width="1.3"/>
<line x1="601.6" y1="191.0" x2="601.6" y2="211.0" stroke="#111" stroke-width="1.6"/>
<path d="M601.6,180.0 L604.2,192.0 L599.0,192.0 Z" fill="#fff" stroke="#111" stroke-width="1.3"/>
<path d="M363.0,457.5 L364.8,461.0 L361.2,461.0 Z" fill="#fff" stroke="#111" stroke-width="1.1"/>
<ellipse cx="363.0" cy="460.5" rx="2.20" ry="1.65" fill="#fff" stroke="#111" stroke-width="1.2" transform="rotate(-12 363.0 460.5)"/>
<ellipse cx="363.0" cy="463.2" rx="2.31" ry="1.65" fill="#fff" stroke="#111" stroke-width="1.2" transform="rotate(-12 363.0 463.2)"/>
<ellipse cx="363.0" cy="465.8" rx="2.43" ry="1.65" fill="#fff" stroke="#111" stroke-width="1.2" transform="rotate(-12 363.0 465.8)"/>
<ellipse cx="363.0" cy="468.5" rx="2.54" ry="1.65" fill="#fff" stroke="#111" stroke-width="1.2" transform="rotate(-12 363.0 468.5)"/>
<ellipse cx="363.0" cy="471.2" rx="2.65" ry="1.65" fill="#fff" stroke="#111" stroke-width="1.2" transform="rotate(-12 363.0 471.2)"/>
<ellipse cx="363.0" cy="473.8" rx="2.76" ry="1.65" fill="#fff" stroke="#111" stroke-width="1.2" transform="rotate(-12 363.0 473.8)"/>
<ellipse cx="363.0" cy="476.5" rx="2.88" ry="1.65" fill="#fff" stroke="#111" stroke-width="1.2" transform="rotate(-12 363.0 476.5)"/>
<ellipse cx="363.0" cy="479.2" rx="2.99" ry="1.65" fill="#fff" stroke="#111" stroke-width="1.2" transform="rotate(-12 363.0 479.2)"/>
<ellipse cx="363.0" cy="481.8" rx="3.10" ry="1.65" fill="#fff" stroke="#111" stroke-width="1.2" transform="rotate(-12 363.0 481.8)"/>
<ellipse cx="363.0" cy="488.0" rx="5.2" ry="3.8" fill="#fff" stroke="#111" stroke-width="1.3"/>
<path d="M360.5,489.3 q1.5,-1.2 3,0 M364.0,489.5 l1.5,-1" stroke="#444" stroke-width="0.9" fill="none"/>
<path d="M488.4,495.0 L490.2,498.5 L486.6,498.5 Z" fill="#fff" stroke="#111" stroke-width="1.1"/>
<ellipse cx="488.4" cy="498.0" rx="2.20" ry="1.79" fill="#fff" stroke="#111" stroke-width="1.2" transform="rotate(-12 488.4 498.0)"/>
<ellipse cx="488.4" cy="500.9" rx="2.31" ry="1.79" fill="#fff" stroke="#111" stroke-width="1.2" transform="rotate(-12 488.4 500.9)"/>
<ellipse cx="488.4" cy="503.8" rx="2.43" ry="1.79" fill="#fff" stroke="#111" stroke-width="1.2" transform="rotate(-12 488.4 503.8)"/>
<ellipse cx="488.4" cy="506.7" rx="2.54" ry="1.79" fill="#fff" stroke="#111" stroke-width="1.2" transform="rotate(-12 488.4 506.7)"/>
<ellipse cx="488.4" cy="509.6" rx="2.65" ry="1.79" fill="#fff" stroke="#111" stroke-width="1.2" transform="rotate(-12 488.4 509.6)"/>
<ellipse cx="488.4" cy="512.4" rx="2.76" ry="1.79" fill="#fff" stroke="#111" stroke-width="1.2" transform="rotate(-12 488.4 512.4)"/>
<ellipse cx="488.4" cy="515.3" rx="2.88" ry="1.79" fill="#fff" stroke="#111" stroke-width="1.2" transform="rotate(-12 488.4 515.3)"/>
<ellipse cx="488.4" cy="518.2" rx="2.99" ry="1.79" fill="#fff" stroke="#111" stroke-width="1.2" transform="rotate(-12 488.4 518.2)"/>
<ellipse cx="488.4" cy="521.1" rx="3.10" ry="1.79" fill="#fff" stroke="#111" stroke-width="1.2" transform="rotate(-12 488.4 521.1)"/>
<ellipse cx="488.4" cy="527.5" rx="5.2" ry="3.8" fill="#fff" stroke="#111" stroke-width="1.3"/>
<path d="M485.9,528.8 q1.5,-1.2 3,0 M489.4,529.0 l1.5,-1" stroke="#444" stroke-width="0.9" fill="none"/>
<path d="M618.4,457.5 L620.2,461.0 L616.6,461.0 Z" fill="#fff" stroke="#111" stroke-width="1.1"/>
<ellipse cx="618.4" cy="460.5" rx="2.20" ry="1.67" fill="#fff" stroke="#111" stroke-width="1.2" transform="rotate(-12 618.4 460.5)"/>
<ellipse cx="618.4" cy="463.2" rx="2.31" ry="1.67" fill="#fff" stroke="#111" stroke-width="1.2" transform="rotate(-12 618.4 463.2)"/>
<ellipse cx="618.4" cy="465.9" rx="2.43" ry="1.67" fill="#fff" stroke="#111" stroke-width="1.2" transform="rotate(-12 618.4 465.9)"/>
<ellipse cx="618.4" cy="468.6" rx="2.54" ry="1.67" fill="#fff" stroke="#111" stroke-width="1.2" transform="rotate(-12 618.4 468.6)"/>
<ellipse cx="618.4" cy="471.3" rx="2.65" ry="1.67" fill="#fff" stroke="#111" stroke-width="1.2" transform="rotate(-12 618.4 471.3)"/>
<ellipse cx="618.4" cy="474.0" rx="2.76" ry="1.67" fill="#fff" stroke="#111" stroke-width="1.2" transform="rotate(-12 618.4 474.0)"/>
<ellipse cx="618.4" cy="476.7" rx="2.88" ry="1.67" fill="#fff" stroke="#111" stroke-width="1.2" transform="rotate(-12 618.4 476.7)"/>
<ellipse cx="618.4" cy="479.4" rx="2.99" ry="1.67" fill="#fff" stroke="#111" stroke-width="1.2" transform="rotate(-12 618.4 479.4)"/>
<ellipse cx="618.4" cy="482.1" rx="3.10" ry="1.67" fill="#fff" stroke="#111" stroke-width="1.2" transform="rotate(-12 618.4 482.1)"/>
<ellipse cx="618.4" cy="488.3" rx="5.2" ry="3.8" fill="#fff" stroke="#111" stroke-width="1.3"/>
<path d="M615.9,489.6 q1.5,-1.2 3,0 M619.4,489.8 l1.5,-1" stroke="#444" stroke-width="0.9" fill="none"/>
<path d="M342.2,481.0 L344.1,488.5 L342.2,487.3 L340.3,488.5 Z" fill="#111" stroke="#111" stroke-width="0.8"/>
<path d="M342.2,487 L342.2,495 Q342.2,498.5 338.9,500.2 A4,2.3 0 1 0 346.9,500.2 A4,2.3 0 1 0 338.9,500.2 Q338.0,503.4 338.9,506.6 A4,2.3 0 1 0 346.9,506.6 A4,2.3 0 1 0 338.9,506.6 L338.3,512.5" fill="none" stroke="#111" stroke-width="1.45"/>
<path d="M468.5,499.0 L470.4,506.5 L468.5,505.3 L466.6,506.5 Z" fill="#111" stroke="#111" stroke-width="0.8"/>
<path d="M468.5,505 L468.5,513 Q468.5,516.5 465.2,518.2 A4,2.3 0 1 0 473.2,518.2 A4,2.3 0 1 0 465.2,518.2 Q464.3,521.4 465.2,524.6 A4,2.3 0 1 0 473.2,524.6 A4,2.3 0 1 0 465.2,524.6 L464.6,530.5" fill="none" stroke="#111" stroke-width="1.45"/>
<path d="M606.3,481.5 L608.2,489.0 L606.3,487.8 L604.4,489.0 Z" fill="#111" stroke="#111" stroke-width="0.8"/>
<path d="M606.3,487.5 L606.3,495.5 Q606.3,499.0 603.0,500.7 A4,2.3 0 1 0 611.0,500.7 A4,2.3 0 1 0 603.0,500.7 Q602.0999999999999,503.9 603.0,507.1 A4,2.3 0 1 0 611.0,507.1 A4,2.3 0 1 0 603.0,507.1 L602.4,513.0" fill="none" stroke="#111" stroke-width="1.45"/>
<g id="panel" stroke="#111" fill="none" stroke-width="1.6">
<path d="M72.5,72.6 L72.5,61 Q72.5,57.8 75.7,57.8 L186,57.8 L186,134.5 L75.7,134.5 Q72.5,134.5 72.5,131.3 L72.5,116.8"/>
<path d="M36,72.6 L75.5,72.6 L75.5,116.8 L36,116.8" stroke-width="1.9"/>
<rect x="89.8" y="57.8" width="13.7" height="11" fill="#fff"/>
<circle cx="96.6" cy="63.3" r="3.5" stroke-width="1.4"/>
<line x1="94.6" y1="65.3" x2="98.6" y2="61.3" stroke-width="1.4"/>
<path d="M89.8,68.8 L94.6,77.5 L108.3,77.5 L103.5,68.8" fill="#fff"/>
<rect x="94.6" y="77.5" width="13.7" height="38" fill="#fff"/>
<rect x="103.5" y="57.8" width="13.7" height="11" fill="#fff"/>
<circle cx="110.3" cy="63.3" r="3.5" stroke-width="1.4"/>
<line x1="108.3" y1="65.3" x2="112.3" y2="61.3" stroke-width="1.4"/>
<path d="M103.5,68.8 L108.3,77.5 L121.9,77.5 L117.1,68.8" fill="#fff"/>
<rect x="108.3" y="77.5" width="13.7" height="38" fill="#fff"/>
<rect x="117.1" y="57.8" width="13.7" height="11" fill="#fff"/>
<circle cx="124.0" cy="63.3" r="3.5" stroke-width="1.4"/>
<line x1="122.0" y1="65.3" x2="126.0" y2="61.3" stroke-width="1.4"/>
<path d="M117.1,68.8 L121.9,77.5 L135.6,77.5 L130.8,68.8" fill="#fff"/>
<rect x="121.9" y="77.5" width="13.7" height="38" fill="#fff"/>
<rect x="130.8" y="57.8" width="13.7" height="11" fill="#fff"/>
<circle cx="137.6" cy="63.3" r="3.5" stroke-width="1.4"/>
<line x1="135.6" y1="65.3" x2="139.6" y2="61.3" stroke-width="1.4"/>
<path d="M130.8,68.8 L135.6,77.5 L149.2,77.5 L144.4,68.8" fill="#fff"/>
<rect x="135.6" y="77.5" width="13.7" height="38" fill="#fff"/>
<rect x="144.4" y="57.8" width="13.7" height="11" fill="#fff"/>
<circle cx="151.3" cy="63.3" r="3.5" stroke-width="1.4"/>
<line x1="149.3" y1="65.3" x2="153.3" y2="61.3" stroke-width="1.4"/>
<path d="M144.4,68.8 L149.2,77.5 L162.9,77.5 L158.1,68.8" fill="#fff"/>
<rect x="149.2" y="77.5" width="13.7" height="38" fill="#fff"/>
<rect x="158.1" y="57.8" width="13.7" height="11" fill="#fff"/>
<circle cx="164.9" cy="63.3" r="3.5" stroke-width="1.4"/>
<line x1="162.9" y1="65.3" x2="166.9" y2="61.3" stroke-width="1.4"/>
<path d="M158.1,68.8 L162.9,77.5 L176.6,77.5 L171.8,68.8" fill="#fff"/>
<rect x="162.9" y="77.5" width="13.7" height="38" fill="#fff"/>
<rect x="171.8" y="57.8" width="13.7" height="11" fill="#fff"/>
<circle cx="178.6" cy="63.3" r="3.5" stroke-width="1.4"/>
<line x1="176.6" y1="65.3" x2="180.6" y2="61.3" stroke-width="1.4"/>
<path d="M171.8,68.8 L176.6,77.5 L190.2,77.5 L185.4,68.8" fill="#fff"/>
<rect x="176.6" y="77.5" width="13.7" height="38" fill="#fff"/>
<path d="M95.8,87 L108.3,87 Q111.5,96.5 108.3,106.0 L95.8,106.0 Q101.4,96.5 95.8,87 Z" fill="#151515" stroke="none"/>
<path d="M98.1,87.8 L101.6,80.7 L107.4,81.0 L106.6,87.8 Z" fill="#151515" stroke="none"/>
<path d="M97.8,88 Q102.9,96.5 97.8,105" stroke="#888" stroke-width="0.7" fill="none"/>
<path d="M109.5,87 L121.9,87 Q125.1,96.5 121.9,106.0 L109.5,106.0 Q115.1,96.5 109.5,87 Z" fill="#151515" stroke="none"/>
<path d="M111.8,87.8 L115.3,80.7 L121.1,81.0 L120.3,87.8 Z" fill="#151515" stroke="none"/>
<path d="M111.5,88 Q116.6,96.5 111.5,105" stroke="#888" stroke-width="0.7" fill="none"/>
<path d="M123.1,87 L135.6,87 Q138.8,96.5 135.6,106.0 L123.1,106.0 Q128.7,96.5 123.1,87 Z" fill="#151515" stroke="none"/>
<path d="M125.4,87.8 L128.9,80.7 L134.7,81.0 L133.9,87.8 Z" fill="#151515" stroke="none"/>
<path d="M125.1,88 Q130.2,96.5 125.1,105" stroke="#888" stroke-width="0.7" fill="none"/>
<path d="M136.8,87 L149.2,87 Q152.4,96.5 149.2,111.0 L136.8,111.0 Q142.4,96.5 136.8,87 Z" fill="#151515" stroke="none"/>
<path d="M139.1,89.3 L142.6,85.7 L148.4,86.0 L147.6,87.8 Z" fill="#151515" stroke="none"/>
<path d="M138.8,88 Q143.9,96.5 138.8,105" stroke="#888" stroke-width="0.7" fill="none"/>
<path d="M150.4,87 L162.9,87 Q166.1,96.5 162.9,106.0 L150.4,106.0 Q156.0,96.5 150.4,87 Z" fill="#151515" stroke="none"/>
<path d="M152.7,87.8 L156.2,80.7 L162.0,81.0 L161.2,87.8 Z" fill="#151515" stroke="none"/>
<path d="M152.4,88 Q157.5,96.5 152.4,105" stroke="#888" stroke-width="0.7" fill="none"/>
<path d="M164.1,87 L176.6,87 Q179.8,96.5 176.6,106.0 L164.1,106.0 Q169.7,96.5 164.1,87 Z" fill="#151515" stroke="none"/>
<path d="M166.4,87.8 L169.9,80.7 L175.7,81.0 L174.9,87.8 Z" fill="#151515" stroke="none"/>
<path d="M166.1,88 Q171.2,96.5 166.1,105" stroke="#888" stroke-width="0.7" fill="none"/>
<path d="M177.8,87 L190.2,87 Q193.4,96.5 190.2,106.0 L177.8,106.0 Q183.4,96.5 177.8,87 Z" fill="#151515" stroke="none"/>
<path d="M180.1,87.8 L183.6,80.7 L189.4,81.0 L188.6,87.8 Z" fill="#151515" stroke="none"/>
<path d="M179.8,88 Q184.9,96.5 179.8,105" stroke="#888" stroke-width="0.7" fill="none"/>
<line x1="94.6" y1="77.5" x2="94.6" y2="88.5" stroke-width="1.5"/>
<line x1="94.6" y1="104" x2="94.6" y2="115.5" stroke-width="1.5"/>
<line x1="94.6" y1="77.5" x2="108.3" y2="77.5" stroke-width="1.5"/>
<path d="M94.6,105.8 L108.3,105.8" stroke-width="1.6"/>
<path d="M94.6,115.5 L89.8,123 L103.5,123 L108.3,115.5 Z" fill="#fff"/>
<rect x="89.8" y="123" width="13.7" height="11.5" fill="#fff"/>
<circle cx="96.6" cy="128.8" r="3.5" stroke-width="1.4"/>
<line x1="94.6" y1="130.8" x2="98.6" y2="126.8" stroke-width="1.4"/>
<line x1="108.3" y1="77.5" x2="108.3" y2="88.5" stroke-width="1.5"/>
<line x1="108.3" y1="104" x2="108.3" y2="115.5" stroke-width="1.5"/>
<line x1="108.3" y1="77.5" x2="121.9" y2="77.5" stroke-width="1.5"/>
<path d="M108.3,105.8 L121.9,105.8" stroke-width="1.6"/>
<path d="M108.3,115.5 L103.5,123 L117.1,123 L121.9,115.5 Z" fill="#fff"/>
<rect x="103.5" y="123" width="13.7" height="11.5" fill="#fff"/>
<circle cx="110.3" cy="128.8" r="3.5" stroke-width="1.4"/>
<line x1="108.3" y1="130.8" x2="112.3" y2="126.8" stroke-width="1.4"/>
<line x1="121.9" y1="77.5" x2="121.9" y2="88.5" stroke-width="1.5"/>
<line x1="121.9" y1="104" x2="121.9" y2="115.5" stroke-width="1.5"/>
<line x1="121.9" y1="77.5" x2="135.6" y2="77.5" stroke-width="1.5"/>
<path d="M121.9,105.8 L135.6,105.8" stroke-width="1.6"/>
<path d="M121.9,115.5 L117.1,123 L130.8,123 L135.6,115.5 Z" fill="#fff"/>
<rect x="117.1" y="123" width="13.7" height="11.5" fill="#fff"/>
<circle cx="124.0" cy="128.8" r="3.5" stroke-width="1.4"/>
<line x1="122.0" y1="130.8" x2="126.0" y2="126.8" stroke-width="1.4"/>
<line x1="135.6" y1="77.5" x2="135.6" y2="88.5" stroke-width="1.5"/>
<line x1="135.6" y1="104" x2="135.6" y2="115.5" stroke-width="1.5"/>
<line x1="135.6" y1="77.5" x2="149.2" y2="77.5" stroke-width="1.5"/>
<path d="M135.6,115.5 L130.8,123 L144.4,123 L149.2,115.5 Z" fill="#fff"/>
<rect x="130.8" y="123" width="13.7" height="11.5" fill="#fff"/>
<circle cx="137.6" cy="128.8" r="3.5" stroke-width="1.4"/>
<line x1="135.6" y1="130.8" x2="139.6" y2="126.8" stroke-width="1.4"/>
<line x1="149.2" y1="77.5" x2="149.2" y2="88.5" stroke-width="1.5"/>
<line x1="149.2" y1="104" x2="149.2" y2="115.5" stroke-width="1.5"/>
<line x1="149.2" y1="77.5" x2="162.9" y2="77.5" stroke-width="1.5"/>
<path d="M149.2,105.8 L162.9,105.8" stroke-width="1.6"/>
<path d="M149.2,115.5 L144.4,123 L158.1,123 L162.9,115.5 Z" fill="#fff"/>
<rect x="144.4" y="123" width="13.7" height="11.5" fill="#fff"/>
<circle cx="151.3" cy="128.8" r="3.5" stroke-width="1.4"/>
<line x1="149.3" y1="130.8" x2="153.3" y2="126.8" stroke-width="1.4"/>
<line x1="162.9" y1="77.5" x2="162.9" y2="88.5" stroke-width="1.5"/>
<line x1="162.9" y1="104" x2="162.9" y2="115.5" stroke-width="1.5"/>
<line x1="162.9" y1="77.5" x2="176.6" y2="77.5" stroke-width="1.5"/>
<path d="M162.9,105.8 L176.6,105.8" stroke-width="1.6"/>
<path d="M162.9,115.5 L158.1,123 L171.8,123 L176.6,115.5 Z" fill="#fff"/>
<rect x="158.1" y="123" width="13.7" height="11.5" fill="#fff"/>
<circle cx="164.9" cy="128.8" r="3.5" stroke-width="1.4"/>
<line x1="162.9" y1="130.8" x2="166.9" y2="126.8" stroke-width="1.4"/>
<line x1="176.6" y1="77.5" x2="176.6" y2="88.5" stroke-width="1.5"/>
<line x1="176.6" y1="104" x2="176.6" y2="115.5" stroke-width="1.5"/>
<line x1="176.6" y1="77.5" x2="190.2" y2="77.5" stroke-width="1.5"/>
<path d="M176.6,105.8 L190.2,105.8" stroke-width="1.6"/>
<path d="M176.6,115.5 L171.8,123 L185.4,123 L190.2,115.5 Z" fill="#fff"/>
<rect x="171.8" y="123" width="13.7" height="11.5" fill="#fff"/>
<circle cx="178.6" cy="128.8" r="3.5" stroke-width="1.4"/>
<line x1="176.6" y1="130.8" x2="180.6" y2="126.8" stroke-width="1.4"/>
<line x1="190.2" y1="77.5" x2="190.2" y2="115.5" stroke-width="1.5"/>
<line x1="89.8" y1="57.8" x2="186" y2="57.8" stroke-width="1.8"/>
</g>
<g id="hand" stroke="#111" stroke-width="1.6" fill="#fff">
<path d="M147.5,102.5 C150,99.5 155,99 160,99 C170,99 180,100 190,103.5 C200,105.5 215,110 224,113.5 C228,116 230,122 232.5,130 C235,140 237,152 240.5,159 C246,168 258,180 276,196.5 L290,215 L170,215 L166.5,153 C169,148.5 174,147.5 177.5,147.5 L176.3,140 C175.5,136 174.5,134 173.8,132.5 C180,128 190,124 199,127.5 C195,122 190,119 186.3,118.8 C183,116 181,113 180,111.5 C174,111 160,110 153.8,108.8 C150,108.5 147,106 147.5,102.5 Z" stroke="none"/>
<path d="M147.5,102.5 C150,99.5 155,99 160,99 C170,99 180,100 190,103.5 C200,105.5 215,110 224,113.5 C228,116 230,122 232.5,130 C235,140 237,152 240.5,159 C246,168 258,180 276,196.5" fill="none"/>
<path d="M147.5,102.5 C146.5,106 149,108 153.8,108.8 C160,110 170,111 174,111.2 C178,111 181,108.5 181.3,107" fill="none"/>
<path d="M149.5,104.5 C152,102.5 156,102 159,103" fill="none" stroke-width="1.3"/>
<path d="M177.5,112.5 C182,116 188,120 193.8,123.8 C197,126 199,127.5 199,127.5" fill="none"/>
<path d="M173.8,132.5 C180,131 190,128.5 199,127.5 C201,126.5 203,125.5 203.8,124.4" fill="none"/>
<path d="M173.8,132.5 C175,136 176,140 176.3,143 L177.5,147.5" fill="none"/>
<path d="M184.4,141.3 C187,143 192,143.5 197.5,142.5" fill="none"/>
<path d="M191.3,136.3 C193,138 194.5,140 195,141.3" fill="none"/>
<path d="M201.3,126.3 C199.5,130 198.5,136 198.5,147" fill="none"/>
<path d="M166.3,152.5 C168,148.5 172,147.5 177.5,147.5 C184,147.5 190,149.5 195,151.3 C199,153 203,156 206.3,158.8" fill="none"/>
<path d="M196,150 C199,147.5 202,146.5 205,146.9 C209,147 212,148 215,149.4" fill="none"/>
<path d="M166.3,152.5 C166,154.5 166.5,156 167.5,157.5 C170,161 174,164.5 177.5,167.5 C183,172 187,176 191.3,180" fill="none"/>
<path d="M225.3,193 C229,198 234,204 237.5,210" fill="none"/>
<path d="M230.4,79 L232.6,77.5 C235,80.5 237,85 239.4,92.5 C240.5,98 239.5,104 236.75,109 L238.25,110.9 L229.25,119.5 L230.75,108.25 L233.4,107.5 C235.5,103 236.5,99 236,96 C235.8,92 234,86 230.4,79 Z" fill="#fff" stroke-width="1.5"/>
<path d="M215,110.5 C219,111 222,111.5 224,112.75 C226,114 227,117 229.25,120.25 C230.5,123 231.5,126 232.25,130" fill="none"/>
</g>
<g id="mag" stroke="#111" stroke-width="1.6" fill="none" stroke-linecap="round">
<path d="M234.3,428.7 L235.3,428.8 L236.2,429.0 L237.2,429.1 L238.1,429.2 L239.1,429.3 L240.0,429.4 L241.0,429.5 L241.9,429.6 L242.9,429.6 L243.8,429.7 L244.8,429.7 L245.7,429.8 L246.7,429.8 L247.6,429.8 L248.5,429.8 L249.5,429.8 L250.4,429.7 L251.3,429.7 L252.3,429.7 L253.2,429.6 L254.1,429.5 L255.1,429.5 L256.0,429.4 L256.9,429.3 L257.9,429.2 L258.8,429.1 L259.7,428.9 L260.6,428.8 L261.5,428.7 L262.5,428.5 L263.4,428.4 L264.3,428.2 L265.2,428.0 L266.1,427.8 L267.0,427.6 L267.9,427.4 L268.8,427.2 L269.7,426.9 L270.6,426.7 L271.5,426.5 L272.4,426.2 L273.3,425.9 L274.2,425.7 L275.1,425.4 L275.9,425.1 L276.8,424.8 L277.7,424.5 L278.6,424.2 L279.4,423.8 L280.3,423.5 L281.2,423.2 L282.0,422.8 L282.9,422.4 L283.7,422.1 L284.6,421.7 L285.4,421.3 L286.3,420.9 L287.1,420.5 L288.0,420.1 L288.8,419.7 L289.6,419.3 L290.5,418.8 L291.3,418.4 L292.1,418.0 L292.9,417.5 L293.7,417.0 L294.5,416.6 L295.3,416.1 L296.1,415.6 L296.9,415.1 L297.7,414.6 L298.5,414.1 L299.3,413.6 L300.1,413.1 L300.9,412.6 L301.6,412.0 L302.4,411.5 L303.2,410.9 L303.9,410.4 L304.7,409.8 L305.4,409.3 L306.1,408.7 L306.9,408.1 L307.6,407.5 L308.3,406.9 L309.1,406.3 L309.8,405.7 L310.5,405.1 L311.2,404.5 L311.9,403.9 L312.6,403.2 L313.3,402.6 L314.0,402.0 L314.7,401.3 L315.4,400.7 L316.0,400.0 L316.7,399.3 L317.4,398.7 L318.0,398.0 L318.7,397.3 L319.3,396.6 L319.9,395.9 L320.6,395.2 L321.2,394.5 L321.8,393.8 L322.4,393.1 L323.0,392.4 L323.6,391.7 L324.2,390.9 L324.8,390.2 L325.4,389.5 L326.0,388.7 L326.6,388.0 L327.1,387.2 L327.7,386.5 L328.2,385.7 L328.8,384.9 L329.3,384.2 L329.8,383.4 L330.4,382.6 L330.9,381.8 L331.4,381.0 L331.9,380.2 L332.4,379.5 L332.9,378.7 L333.4,377.9 L333.8,377.0 L334.3,376.2 L334.8,375.4 L335.2,374.6 L335.7,373.8 L336.1,373.0 L336.6,372.1 L337.0,371.3 L337.4,370.5 L337.8,369.6 L338.2,368.8 L338.6,367.9 L339.0,367.1 L339.4,366.2 L339.7,365.4 L340.1,364.5 L340.5,363.7 L340.8,362.8 L341.1,361.9 L341.5,361.1 L341.8,360.2 L342.1,359.3 L342.4,358.4 L342.7,357.6 L343.0,356.7 L343.3,355.8 L343.6,354.9 L343.8,354.0 L344.1,353.1 L344.3,352.2 L344.6,351.3 L344.8,350.4 L345.0,349.5"/>
<path d="M236.1,482.2 L237.2,482.0 L238.4,481.7 L239.5,481.4 L240.6,481.1 L241.8,480.8 L242.9,480.5 L244.1,480.2 L245.2,479.9 L246.3,479.5 L247.4,479.2 L248.5,478.8 L249.6,478.4 L250.8,478.1 L251.9,477.7 L253.0,477.3 L254.0,476.9 L255.1,476.4 L256.2,476.0 L257.3,475.6 L258.4,475.1 L259.5,474.7 L260.5,474.2 L261.6,473.8 L262.6,473.3 L263.7,472.8 L264.7,472.3 L265.8,471.8 L266.8,471.3 L267.9,470.7 L268.9,470.2 L269.9,469.7 L270.9,469.1 L271.9,468.5 L273.0,468.0 L274.0,467.4 L275.0,466.8 L276.0,466.2 L276.9,465.6 L277.9,465.0 L278.9,464.4 L279.9,463.8 L280.8,463.1 L281.8,462.5 L282.8,461.9 L283.7,461.2 L284.7,460.5 L285.6,459.9 L286.5,459.2 L287.5,458.5 L288.4,457.8 L289.3,457.1 L290.2,456.4 L291.1,455.7 L292.0,454.9 L292.9,454.2 L293.8,453.5 L294.7,452.7 L295.6,452.0 L296.4,451.2 L297.3,450.4 L298.1,449.7 L299.0,448.9 L299.8,448.1 L300.7,447.3 L301.5,446.5 L302.3,445.7 L303.1,444.9 L304.0,444.1 L304.8,443.2 L305.6,442.4 L306.4,441.6 L307.1,440.7 L307.9,439.9 L308.7,439.0 L309.5,438.1 L310.2,437.3 L311.0,436.4 L311.7,435.5 L312.4,434.6 L313.2,433.7 L313.9,432.8 L314.6,431.9 L315.3,431.0 L316.0,430.1 L316.7,429.2 L317.4,428.2 L318.1,427.3 L318.8,426.4 L319.4,425.4 L320.1,424.5 L320.7,423.5 L321.4,422.6 L322.0,421.6 L322.6,420.6 L323.2,419.6 L323.9,418.7 L324.5,417.7 L325.1,416.7 L325.6,415.7 L326.2,414.7 L326.8,413.7 L327.4,412.7 L327.9,411.7 L328.5,410.7 L329.0,409.6 L329.5,408.6 L330.1,407.6 L330.6,406.5 L331.1,405.5 L331.6,404.5 L332.1,403.4 L332.5,402.4 L333.0,401.3 L333.5,400.2 L333.9,399.2 L334.4,398.1 L334.8,397.0 L335.2,396.0 L335.7,394.9 L336.1,393.8 L336.5,392.7 L336.9,391.6 L337.3,390.5 L337.6,389.4 L338.0,388.3 L338.4,387.2 L338.7,386.1 L339.0,385.0 L339.4,383.9 L339.7,382.8 L340.0,381.7 L340.3,380.5 L340.6,379.4 L340.9,378.3 L341.2,377.2 L341.4,376.0 L341.7,374.9 L341.9,373.8 L342.2,372.6 L342.4,371.5 L342.6,370.3 L342.8,369.2 L343.0,368.0 L343.2,366.9 L343.4,365.7 L343.5,364.6 L343.7,363.4 L343.8,362.2 L344.0,361.1 L344.1,359.9 L344.2,358.7 L344.3,357.6 L344.4,356.4 L344.5,355.2 L344.6,354.1 L344.7,352.9 L344.7,351.7 L344.8,350.5 L344.8,349.3"/>
<circle cx="133" cy="457.7" r="106" fill="#fff" stroke="none"/>
<path d="M236.25,482.5 A106,106 0 1 1 234.4,428.75" stroke-width="1.45"/>
<defs><clipPath id="cc"><circle cx="133" cy="457.7" r="105"/></clipPath></defs>
<g clip-path="url(#cc)">
<path d="M57.5,479.4 L107.5,453.75 M57.5,479.4 L130.5,527 L234.5,471.6 L192,447" />
<line x1="161.0" y1="418.6" x2="243.0" y2="375.1"/>
<line x1="166.0" y1="423.0" x2="247.0" y2="380.1"/>
<line x1="175.0" y1="427.6" x2="251.5" y2="387.1"/>
<line x1="182.0" y1="431.8" x2="255.0" y2="393.1"/>
<line x1="189.0" y1="442.2" x2="260.0" y2="404.6"/>
<line x1="196.0" y1="445.1" x2="262.0" y2="410.1"/>
<path d="M182,425.5 L205,412.5 L214,415 L192,427.5 Z" fill="#111" stroke="none"/>
<line x1="20" y1="486" x2="60" y2="462"/>
<path d="M70,456 L55.5,460.5 L60,467 Z" fill="#111" stroke="#111" stroke-width="1"/>
<path d="M21.2,516.5 L80.2,488.5 A2.8,2.8 0 0 0 77.8,483.5 L18.8,511.5" fill="#fff"/>
<path d="M81.7,486.6 L86.7,484.2 A1.7,1.7 0 0 0 85.2,481.2 L80.3,483.5" fill="#fff" stroke-width="1.4"/>
<path d="M26.2,531.5 L96.2,499.5 A2.8,2.8 0 0 0 93.8,494.5 L23.8,526.5" fill="#fff"/>
<path d="M97.7,497.6 L102.7,495.3 A1.7,1.7 0 0 0 101.3,492.3 L96.3,494.5" fill="#fff" stroke-width="1.4"/>
<path d="M34.2,545.5 L111.2,509.5 A2.8,2.8 0 0 0 108.8,504.5 L31.8,540.5" fill="#fff"/>
<path d="M112.7,507.6 L117.7,505.3 A1.7,1.7 0 0 0 116.3,502.2 L111.3,504.5" fill="#fff" stroke-width="1.4"/>
<path d="M65.2,514.8 L92.6,501.2 L92.2,495.1 L63.9,508.2 Z" fill="#111" stroke="none"/>
</g>
<path d="M104.7,468.1 L91.25,475 L98.75,482.2" stroke-width="1.5"/>
<ellipse cx="114.7" cy="486.25" rx="9.4" ry="8.6" stroke-width="1.5" transform="rotate(-20 114.7 486.25)"/>
<path d="M111.9,481.25 L122.5,489.4 M109.4,484.4 L116.25,489.4 M107.5,487.8 L110.9,490.6 M116.9,486.25 L121.9,483.1" stroke-width="1.5"/>
<path d="M119,497.5 L131.25,491.6 L123.4,501.9 L135,496.6" stroke-width="1.6"/>
<path d="M151.25,421.85 L191.25,446.25 L191.25,467.5 L149.4,488.75 L137.5,483.75 L134.4,478.75 L123.1,474.4 L120,469.4 L109.4,465 L109.4,440.6 Z" fill="#fff"/>
<path d="M109.4,440.6 L119.4,445.0 L123.1,450.0 L133.1,454.4 L137.5,460.0 L149.4,465.0 L191.2,446.2"/>
<path d="M109.4,465.0 L120.0,469.4 L123.1,474.4 L134.4,478.8 L137.5,483.8 L149.4,488.8 L191.2,467.5"/>
<line x1="109.4" y1="440.6" x2="109.4" y2="465.0"/>
<line x1="119.4" y1="445.0" x2="120.0" y2="469.4"/>
<line x1="123.1" y1="450.0" x2="123.1" y2="474.4"/>
<line x1="133.1" y1="454.4" x2="134.4" y2="478.8"/>
<line x1="137.5" y1="460.0" x2="137.5" y2="483.8"/>
<line x1="149.4" y1="465.0" x2="149.4" y2="488.8"/>
<line x1="191.2" y1="446.2" x2="191.2" y2="467.5"/>
<line x1="109.4" y1="440.6" x2="151.25" y2="421.85"/>
<path d="M111.3,443.8 L117.5,446.6 L117.5,466.8 L111.3,464.0 Z" stroke-width="1.2"/>
<path d="M113.1,446.4 L115.7,447.6 L115.7,464.2 L113.1,463.0 Z" stroke-width="1.0"/>
<path d="M125.0,453.2 L131.2,456.0 L131.2,476.2 L125.0,473.4 Z" stroke-width="1.2"/>
<path d="M126.8,455.8 L129.4,457.0 L129.4,473.6 L126.8,472.4 Z" stroke-width="1.0"/>
<path d="M139.4,463.2 L147.5,466.6 L147.5,486.8 L139.4,483.4 Z" stroke-width="1.2"/>
<path d="M141.2,465.8 L145.7,467.6 L145.7,484.2 L141.2,482.4 Z" stroke-width="1.0"/>
<path d="M141.5,415.0 L141.5,430.0 A6.0,3.9 0 0 0 153.5,430.0 L153.5,415.0" fill="#fff"/>
<ellipse cx="147.5" cy="415.0" rx="6.0" ry="3.9" fill="#fff"/>
<path d="M119.0,425.6 L119.0,440.6 A6.0,3.9 0 0 0 131.0,440.6 L131.0,425.6" fill="#fff"/>
<ellipse cx="125.0" cy="425.6" rx="6.0" ry="3.9" fill="#fff"/>
<path d="M154.6,425.0 L154.6,440.0 A6.0,3.9 0 0 0 166.6,440.0 L166.6,425.0" fill="#fff"/>
<ellipse cx="160.6" cy="425.0" rx="6.0" ry="3.9" fill="#fff"/>
<path d="M169.0,434.4 L169.0,449.4 A6.0,3.9 0 0 0 181.0,449.4 L181.0,434.4" fill="#fff"/>
<ellipse cx="175.0" cy="434.4" rx="6.0" ry="3.9" fill="#fff"/>
<path d="M134.0,436.2 L134.0,451.2 A6.0,3.9 0 0 0 146.0,451.2 L146.0,436.2" fill="#fff"/>
<ellipse cx="140.0" cy="436.2" rx="6.0" ry="3.9" fill="#fff"/>
<path d="M148.4,446.2 L148.4,461.2 A6.0,3.9 0 0 0 160.4,461.2 L160.4,446.2" fill="#fff"/>
<ellipse cx="154.4" cy="446.2" rx="6.0" ry="3.9" fill="#fff"/>
</g>
<path d="M341.25,340.6 L343.4,334.7 L354.4,333.1 L366.9,348.75 L365,353.75 L360,356.9 L351.9,355.6 L348.75,351.25 L343.1,345 Z" fill="#111" stroke="#111" stroke-width="1.2"/>
<path d="M343.6,335.8 L353.2,334.3 L351.2,338.8 L343,339.8 Z" fill="#fff" stroke="none"/>
<circle cx="345.0" cy="342.5" r="0.9" fill="#fff"/>
<circle cx="348.0" cy="342.0" r="0.9" fill="#fff"/>
<circle cx="351.5" cy="341.5" r="0.9" fill="#fff"/>
<circle cx="347.0" cy="346.5" r="0.9" fill="#fff"/>
<circle cx="350.5" cy="346.0" r="0.9" fill="#fff"/>
<circle cx="354.0" cy="345.5" r="0.9" fill="#fff"/>
<circle cx="351.0" cy="350.5" r="0.9" fill="#fff"/>
<circle cx="354.5" cy="350.0" r="0.9" fill="#fff"/>
<circle cx="358.0" cy="349.5" r="0.9" fill="#fff"/>
<circle cx="354.0" cy="354.0" r="0.9" fill="#fff"/>
<circle cx="357.5" cy="353.5" r="0.9" fill="#fff"/>
<circle cx="361.0" cy="353.0" r="0.9" fill="#fff"/>
<circle cx="355.5" cy="339.0" r="0.9" fill="#fff"/>
<circle cx="358.5" cy="343.5" r="0.9" fill="#fff"/>
<circle cx="361.5" cy="347.5" r="0.9" fill="#fff"/>
<circle cx="364.0" cy="351.0" r="0.9" fill="#fff"/>
<line x1="228.9" y1="595" x2="228.9" y2="689.5" stroke="#111" stroke-width="2"/>
<path d="M228.9,579.25 L237.6,597.6 L228.9,595.5 L220.6,597.6 Z" fill="#111" stroke="#111" stroke-width="1" stroke-linejoin="miter"/>
<g id="foil" stroke="#2a2a2a" stroke-width="1.15" fill="#fff">
<path d="M631.0,583.8 L623.5,582.6 L615.8,581.5 L608.0,580.5 L600.1,579.5 L592.0,578.6 L583.8,577.8 L575.4,577.1 L567.0,576.4 L558.5,575.8 L549.9,575.3 L541.3,574.9 L532.6,574.6 L523.8,574.3 L515.0,574.1 L506.2,574.0 L497.4,574.0 L488.6,574.1 L479.8,574.2 L471.1,574.4 L462.3,574.8 L453.7,575.1 L445.0,575.6 L436.5,576.2 L428.0,576.8 L419.7,577.5 L411.4,578.3 L403.3,579.1 L395.3,580.1 L387.4,581.1 L379.7,582.2 L372.1,583.3 L364.7,584.5 L357.5,585.8 L350.4,587.2 L343.6,588.6 L336.9,590.1 L330.5,591.6 L324.3,593.2 L318.4,594.9 L312.6,596.6 L307.2,598.4 L301.9,600.2 L297.0,602.0 L292.3,603.9 L287.9,605.9 L283.7,607.9 L279.9,609.9 L276.3,612.0 L273.0,614.1 L270.0,616.2 L267.4,618.3 L265.0,620.5 L262.9,622.7 L261.2,624.9 L259.8,627.1 L258.6,629.4 L257.8,631.6 L257.4,633.8 L257.2,636.1 L257.4,638.5 L257.9,640.9 L258.9,643.3 L260.1,645.7 L261.8,648.1 L263.8,650.5 L266.2,652.8 L268.9,655.1 L271.9,657.4 L275.3,659.7 L279.1,661.9 L283.2,664.1 L287.6,666.2 L292.3,668.3 L297.4,670.3 L302.8,672.3 L308.4,674.2 L314.4,676.1 L320.6,677.9 L327.1,679.7 L333.8,681.4 L340.9,683.0 L348.1,684.5 L355.6,686.0 L363.3,687.4 L371.2,688.7 L379.3,690.0 L387.6,691.1 L396.1,692.2 L404.7,693.2 L413.4,694.1 L422.3,694.9 L431.3,695.7 L440.4,696.3 L449.6,696.8 L458.9,697.3 L468.3,697.7 L477.7,697.9 L487.1,698.1 L496.5,698.2 L506.0,698.2 L515.4,698.1 L524.8,697.9 L534.2,697.6 L543.5,697.2 L552.8,696.7 L562.0,696.1 L571.0,695.5 L580.0,694.7 L588.9,693.9 L597.6,693.0 L606.2,691.9 L614.6,690.8 L622.8,689.7 L630.9,688.4 L638.7,687.1 L646.4,685.6 L653.8,684.2 L661.0,682.6 L661.3,683.0 L663.3,682.1 L665.4,681.1 L667.6,680.1 L669.7,679.0 L671.8,677.9 L674.0,676.8 L676.1,675.6 L678.3,674.4 L680.4,673.1 L682.6,671.8 L684.7,670.4 L686.8,669.1 L688.8,667.6 L690.8,666.1 L692.8,664.6 L694.8,663.0 L696.7,661.4 L698.5,659.8 L700.3,658.0 L702.0,656.3 L703.7,654.5 L705.3,652.6 L706.8,650.7 L708.2,648.7 L709.5,646.7 L710.8,644.7 L712.0,642.5 L713.1,640.4 L714.1,638.2 L715.0,636.0 L715.8,633.7 L716.6,631.4 L717.3,629.1 L717.9,626.7 L718.5,624.4 L719.0,622.0 L719.4,619.6 L719.7,617.1 L720.0,614.7 L720.2,612.3 L720.4,609.8 L720.4,607.4 L720.5,605.0 L720.4,602.5 L720.3,600.1 L720.2,597.7 L720.0,595.2 L719.7,592.8 L719.4,590.4 L719.0,588.0 L718.5,585.6 L718.0,583.2 L717.4,580.9 L716.8,578.5 L716.1,576.2 L715.4,573.9 L714.6,571.6 L713.7,569.3 L712.8,567.0 L711.8,564.8 L710.8,562.6 L709.7,560.4 L708.6,558.2 L707.4,556.1 L706.2,554.0 L704.9,551.9 L703.5,549.9 L702.1,547.9 L700.6,545.9 L699.1,543.9 L697.6,542.0 L695.9,540.2 L694.3,538.3 L692.6,536.5 L690.8,534.8 L689.0,533.1 L687.1,531.4 L685.2,529.8 L683.2,528.2 L681.2,526.7 L679.1,525.2 L677.0,523.9 L674.8,522.8 L672.7,522.1 L670.6,522.1 L668.5,522.7 L666.7,524.0 L665.3,525.9 L664.8,528.1 L664.8,530.5 L665.2,533.0 L665.8,535.4 L666.5,537.9 L667.1,540.3 L667.5,542.8 L667.6,545.2 L667.4,547.6 L667.1,550.0 L666.4,552.4 L665.6,554.7 L664.6,556.9 L663.4,559.1 L662.1,561.2 L660.7,563.3 L659.1,565.2 L657.5,567.0 L655.8,568.8 L654.0,570.4 L652.1,572.0 L650.2,573.4 L648.2,574.8 L646.2,576.1 L644.1,577.4 L642.0,578.6 L639.8,579.7 L637.7,580.8 L635.5,581.9 L633.2,582.9 L631.0,583.9 Z"/>
<path d="M718.9,610.1 L719.7,610.3 L720.5,610.6 L721.3,610.9 L722.1,611.3 L722.9,611.6 L723.7,612.0 L724.5,612.4 L725.3,612.8 L726.1,613.2 L726.9,613.7 L727.7,614.1 L728.5,614.6 L729.2,615.1 L730.0,615.6 L730.8,616.2 L731.5,616.7 L732.3,617.3 L733.0,617.9 L733.7,618.5 L734.4,619.1 L735.1,619.7 L735.8,620.4 L736.4,621.0 L737.1,621.7 L737.7,622.4 L738.3,623.1 L738.8,623.8 L739.4,624.5 L739.9,625.2 L740.3,626.0 L740.8,626.8 L741.2,627.5 L741.6,628.3 L742.0,629.1 L742.3,629.9 L742.6,630.7 L742.9,631.6 L743.1,632.4 L743.3,633.3 L743.4,634.1 L743.6,635.0 L743.7,635.8 L743.7,636.7 L743.8,637.6 L743.8,638.4 L743.8,639.3 L743.7,640.2 L743.6,641.1 L743.5,641.9 L743.4,642.8 L743.2,643.7 L743.0,644.5 L742.8,645.4 L742.6,646.2 L742.3,647.0 L742.0,647.9 L741.7,648.7 L741.4,649.5 L741.0,650.3 L740.6,651.1 L740.2,651.8 L739.8,652.6 L739.3,653.3 L738.9,654.0 L738.4,654.7 L737.8,655.4 L737.3,656.0 L736.8,656.7 L736.2,657.3 L735.6,657.9 L735.0,658.5 L734.4,659.1 L733.7,659.7 L733.1,660.2 L732.4,660.8 L731.7,661.3 L731.0,661.8 L730.3,662.3 L729.5,662.8 L728.8,663.3 L728.0,663.7 L727.3,664.2 L726.5,664.6 L725.7,665.0 L724.9,665.4 L724.1,665.8 L723.3,666.2 L722.4,666.6 L721.6,667.0 L720.8,667.3 L719.9,667.7 L719.1,668.0 L718.2,668.4 L717.3,668.7 L716.5,669.0 L715.6,669.3 L714.7,669.6 L713.8,669.9 L712.9,670.2 L712.0,670.5 L711.1,670.8 L710.3,671.0 L709.4,671.3 L708.5,671.6 L707.6,671.8 L706.7,672.1 L705.8,672.3 L704.9,672.6 L704.0,672.8 L703.1,673.0 L702.3,673.3 L701.4,673.5 L700.5,673.7 L699.6,674.0 L698.8,674.2 L697.9,674.4 L697.0,674.6 L696.2,674.9 L695.3,675.1 L694.5,675.3 L693.6,675.5 L692.8,675.7 L691.9,675.9 L691.1,676.2 L690.3,676.4 L689.4,676.6 L688.6,676.8 L687.7,677.0 L686.9,677.2 L686.1,677.4 L685.2,677.6 L684.4,677.8 L683.6,678.0 L682.7,678.2 L681.9,678.4 L681.1,678.6 L680.2,678.8 L679.4,679.0 L678.5,679.2 L677.7,679.4 L676.9,679.5 L676.0,679.7 L675.2,679.9 L674.3,680.1 L673.5,680.3 L672.6,680.5 L671.8,680.7 L670.9,680.9 L670.1,681.1 L669.2,681.3 L668.3,681.5 L667.4,681.7 L666.6,681.9 L665.7,682.0 L664.8,682.2 L663.9,682.4 L663.0,682.6 L662.1,682.8 L661.2,683.0" fill="none"/>
<path d="M680.5,678.8 L681.2,678.8 L681.9,678.9 L682.6,678.9 L683.3,679.0 L683.9,679.1 L684.6,679.3 L685.2,679.5 L685.8,679.6 L686.5,679.8 L687.1,680.1 L687.7,680.3 L688.3,680.6 L688.8,680.8 L689.4,681.1 L690.0,681.4 L690.5,681.7 L691.1,682.1 L691.6,682.4 L692.1,682.8 L692.7,683.2 L693.2,683.6 L693.7,684.0 L694.2,684.4 L694.7,684.8 L695.2,685.2 L695.7,685.7 L696.2,686.1 L696.7,686.6 L697.2,687.1 L697.6,687.5 L698.1,688.0 L698.6,688.5 L699.0,689.0 L699.5,689.5 L700.0,690.0 L700.4,690.5 L700.9,691.0 L701.4,691.5 L701.8,692.0 L702.3,692.5 L702.7,693.0 L703.2,693.5 L703.7,694.0 L704.1,694.5 L704.6,695.1 L705.1,695.6 L705.5,696.1 L706.0,696.5 L706.5,697.0 L706.9,697.5 L707.4,698.0 L707.9,698.5 L708.4,698.9 L708.9,699.4 L709.4,699.8 L709.9,700.3 L710.4,700.7 L710.9,701.1 L711.4,701.6 L711.9,702.0 L712.4,702.3 L713.0,702.7 L713.5,703.1 L714.0,703.4 L714.6,703.8 L715.2,704.1 L715.7,704.4 L716.3,704.7 L716.8,704.9 L717.4,705.2 L718.0,705.4 L718.5,705.6 L719.1,705.7 L719.7,705.8 L720.2,706.0 L720.8,706.0 L721.4,706.1 L721.9,706.1 L722.4,706.1 L723.0,706.0 L723.5,705.9 L724.0,705.8 L724.5,705.6 L725.0,705.4 L725.5,705.2 L726.0,704.9 L726.4,704.6 L726.9,704.3 L727.3,704.0 L727.7,703.6 L728.1,703.2 L728.5,702.8 L728.9,702.4 L729.3,701.9 L729.6,701.4 L729.9,700.9 L730.2,700.4 L730.5,699.8 L730.7,699.3 L731.0,698.7 L731.2,698.1 L731.4,697.5 L731.6,696.9 L731.8,696.3 L731.9,695.6 L732.1,695.0 L732.2,694.3 L732.3,693.6 L732.4,692.9 L732.5,692.2 L732.6,691.5 L732.6,690.8 L732.7,690.1 L732.7,689.4 L732.8,688.6 L732.8,687.9 L732.8,687.1 L732.8,686.4 L732.8,685.6 L732.7,684.9 L732.7,684.1 L732.7,683.3 L732.6,682.6 L732.6,681.8 L732.5,681.0 L732.4,680.3 L732.4,679.5 L732.3,678.7 L732.2,678.0 L732.1,677.2 L732.0,676.5 L732.0,675.7 L731.9,675.0 L731.8,674.2 L731.7,673.5 L731.6,672.8 L731.5,672.1 L731.4,671.3 L731.3,670.6 L731.2,670.0 L731.1,669.3 L731.0,668.6 L730.9,667.9 L730.8,667.3 L730.7,666.7 L730.6,666.1 L730.5,665.4 L730.4,664.9 L730.4,664.3 L730.3,663.7 L730.2,663.2 L730.2,662.7 L730.1,662.1 L730.1,661.7 L730.0,661.2 L730.0,660.7 L730.0,660.3 L730.0,659.9 L730.0,659.5" fill="none"/>
</g>
<path d="M742.4,600.4 L742.4,599.8 L742.3,599.2 L742.3,598.6 L742.3,598.0 L742.2,597.4 L742.2,596.8 L742.1,596.2 L742.1,595.6 L742.0,595.0 L742.0,594.5 L741.9,593.9 L741.9,593.3 L741.8,592.7 L741.7,592.1 L741.7,591.5 L741.6,590.9 L741.5,590.3 L741.4,589.7 L741.4,589.1 L741.3,588.5 L741.2,587.9 L741.1,587.3 L741.0,586.8 L740.9,586.2 L740.8,585.6 L740.7,585.0 L740.6,584.4 L740.5,583.8 L740.4,583.2 L740.3,582.6 L740.2,582.1 L740.0,581.5 L739.9,580.9 L739.8,580.3 L739.7,579.7 L739.5,579.1 L739.4,578.6 L739.3,578.0 L739.1,577.4 L739.0,576.8 L738.8,576.2 L738.7,575.7 L738.5,575.1 L738.4,574.5 L738.2,573.9 L738.1,573.4 L737.9,572.8 L737.8,572.2 L737.6,571.6 L737.4,571.1 L737.2,570.5 L737.1,569.9 L736.9,569.4 L736.7,568.8 L736.5,568.2 L736.3,567.7 L736.2,567.1 L736.0,566.5 L735.8,566.0 L735.6,565.4 L735.4,564.8 L735.2,564.3 L735.0,563.7 L734.8,563.2 L734.5,562.6 L734.3,562.1 L734.1,561.5 L733.9,560.9 L733.7,560.4 L733.4,559.8 L733.2,559.3 L733.0,558.7 L732.8,558.2 L732.5,557.6 L732.3,557.1 L732.0,556.6 L731.8,556.0 L731.5,555.5 L731.3,554.9 L731.0,554.4 L730.8,553.9 L730.5,553.3 L730.3,552.8 L730.0,552.3 L729.7,551.7 L729.5,551.2 L729.2,550.7 L728.9,550.1 L728.7,549.6 L728.4,549.1 L728.1,548.6 L727.8,548.0 L727.5,547.5 L727.2,547.0 L726.9,546.5 L726.6,546.0 L726.3,545.4 L726.0,544.9 L725.7,544.4 L725.4,543.9 L725.1,543.4 L724.8,542.9 L724.5,542.4 L724.2,541.9 L723.9,541.4 L723.6,540.9 L723.2,540.4 L722.9,539.9 L722.6,539.4 L722.2,538.9 L721.9,538.4 L721.6,537.9 L721.2,537.4 L720.9,536.9 L720.5,536.4 L720.2,536.0 L719.9,535.5 L719.5,535.0 L719.1,534.5 L718.8,534.0 L718.4,533.6 L718.1,533.1 L717.7,532.6 L717.3,532.1 L717.0,531.7 L716.6,531.2 L716.2,530.8 L715.8,530.3 L715.5,529.8 L715.1,529.4 L714.7,528.9 L714.3,528.5 L713.9,528.0 L713.5,527.6 L713.1,527.1 L712.7,526.7 L712.3,526.2 L711.9,525.8 L711.5,525.4 L711.1,524.9 L710.7,524.5 L710.3,524.0 L709.9,523.6 L709.5,523.2 L709.1,522.8 L708.6,522.3 L708.2,521.9 L707.8,521.5 L707.3,521.1 L706.9,520.7 L706.5,520.3 L706.0,519.8 L705.6,519.4 L705.2,519.0 L704.7,518.6 L704.3,518.2 L703.8,517.8 L703.4,517.4 L702.9,517.0" fill="none" stroke="#111" stroke-width="2.3"/>
<path d="M692.9,506.9 L712,513.75 L699.75,526 Z" fill="#111" stroke="#111" stroke-width="1"/>
<path d="M753.4,661.0 L753.5,661.3 L753.5,661.7 L753.6,662.0 L753.6,662.3 L753.7,662.6 L753.7,663.0 L753.8,663.3 L753.8,663.6 L753.9,664.0 L753.9,664.3 L754.0,664.7 L754.0,665.0 L754.1,665.3 L754.1,665.7 L754.2,666.0 L754.2,666.3 L754.2,666.7 L754.3,667.0 L754.3,667.4 L754.4,667.7 L754.4,668.1 L754.4,668.4 L754.5,668.7 L754.5,669.1 L754.5,669.4 L754.5,669.8 L754.6,670.1 L754.6,670.5 L754.6,670.8 L754.7,671.2 L754.7,671.5 L754.7,671.9 L754.7,672.2 L754.7,672.6 L754.8,672.9 L754.8,673.3 L754.8,673.6 L754.8,674.0 L754.8,674.3 L754.8,674.7 L754.8,675.0 L754.8,675.4 L754.9,675.7 L754.9,676.1 L754.9,676.4 L754.9,676.8 L754.9,677.1 L754.9,677.5 L754.9,677.8 L754.9,678.2 L754.9,678.5 L754.9,678.9 L754.8,679.2 L754.8,679.6 L754.8,679.9 L754.8,680.3 L754.8,680.6 L754.8,681.0 L754.8,681.3 L754.7,681.7 L754.7,682.0 L754.7,682.4 L754.7,682.7 L754.6,683.1 L754.6,683.4 L754.6,683.8 L754.6,684.1 L754.5,684.5 L754.5,684.8 L754.4,685.2 L754.4,685.5 L754.4,685.9 L754.3,686.2 L754.3,686.6 L754.2,686.9 L754.2,687.3 L754.1,687.6 L754.1,688.0 L754.0,688.3 L754.0,688.7 L753.9,689.0 L753.9,689.4 L753.8,689.7 L753.7,690.1 L753.7,690.4 L753.6,690.7 L753.5,691.1 L753.5,691.4 L753.4,691.8 L753.3,692.1 L753.2,692.4 L753.2,692.8 L753.1,693.1 L753.0,693.5 L752.9,693.8 L752.8,694.1 L752.7,694.5 L752.6,694.8 L752.5,695.1 L752.4,695.5 L752.3,695.8 L752.2,696.1 L752.1,696.5 L752.0,696.8 L751.9,697.1 L751.8,697.4 L751.7,697.8 L751.6,698.1 L751.5,698.4 L751.3,698.7 L751.2,699.1 L751.1,699.4 L751.0,699.7 L750.8,700.0 L750.7,700.4 L750.6,700.7 L750.4,701.0 L750.3,701.3 L750.2,701.6 L750.0,701.9 L749.9,702.2 L749.7,702.5 L749.6,702.9 L749.4,703.2 L749.3,703.5 L749.1,703.8 L748.9,704.1 L748.8,704.4 L748.6,704.7 L748.5,705.0 L748.3,705.3 L748.1,705.6 L747.9,705.9 L747.8,706.2 L747.6,706.5 L747.4,706.8 L747.2,707.0 L747.0,707.3 L746.8,707.6 L746.6,707.9 L746.4,708.2 L746.2,708.5 L746.0,708.7 L745.8,709.0 L745.6,709.3 L745.4,709.6 L745.2,709.9 L745.0,710.1 L744.8,710.4 L744.5,710.7 L744.3,710.9 L744.1,711.2 L743.8,711.5 L743.6,711.7 L743.4,712.0 L743.1,712.2 L742.9,712.5 L742.6,712.7 L742.4,713.0" fill="none" stroke="#111" stroke-width="2.3"/>
<path d="M733,728.5 L751.5,719.7 L739.5,709.5 Z" fill="#111" stroke="#111" stroke-width="1"/>
<g font-family="Liberation Sans, sans-serif" font-size="20.7" fill="#111" stroke="none">
<text x="328" y="613.8">BG: Премахнете защитното фолио!</text>
<text x="328" y="642.8">EN: Remove the protective foil!</text>
<text x="328" y="672.3">RO: Scoateti folia de protectie!</text>
</g>
</svg></body></html>
